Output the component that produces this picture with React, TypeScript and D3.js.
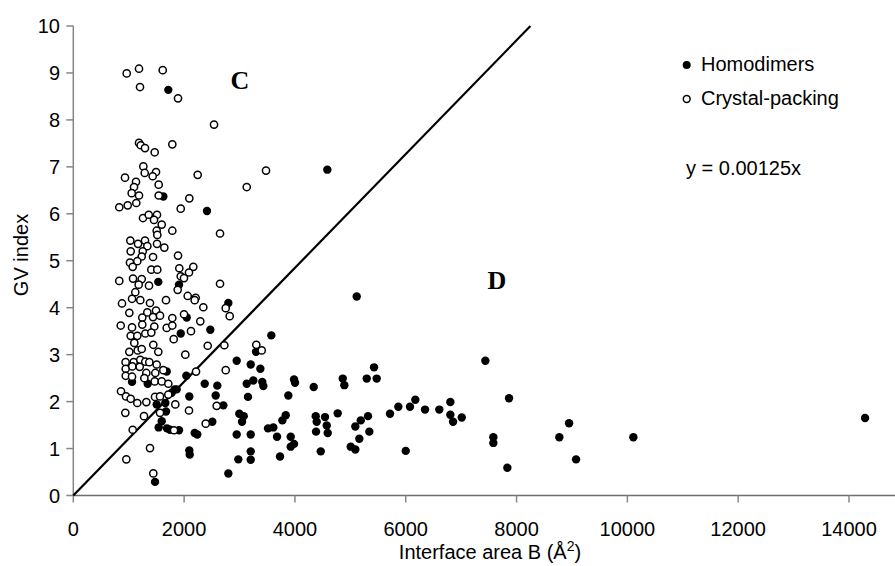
import React from "react";
import * as d3 from "d3";

const homodimers: [number, number][] = [
  [1715, 8.64], [1625, 6.37], [2413, 6.06], [1534, 4.55], [1908, 4.49], [2798, 4.1], [2047, 3.79], [2473, 3.53],
  [1939, 3.45], [3574, 3.41], [3298, 3.06], [2949, 2.87], [4585, 6.94], [5115, 4.24],
  [1475, 0.29], [2040, 2.55], [1060, 2.42], [1343, 2.38], [1686, 2.64], [1830, 2.26], [1866, 2.26], [1776, 2.19],
  [1661, 1.97], [1505, 1.94], [1673, 1.79], [1596, 1.58], [1541, 1.45], [1691, 1.43], [1745, 1.4], [1908, 1.39],
  [2094, 2.11], [2191, 1.33], [2238, 1.3], [2094, 0.96], [2101, 0.87],
  [2372, 2.38], [2599, 2.34], [2570, 2.13], [2708, 1.92], [2509, 1.57], [3130, 2.38], [3249, 2.45], [3411, 2.42],
  [3430, 2.33], [3984, 2.47], [4002, 2.4], [4339, 2.31], [3153, 2.1], [3881, 2.13], [2996, 1.74], [3076, 1.69],
  [3045, 1.57], [3514, 1.43], [3610, 1.45], [3773, 1.6], [3834, 1.71], [2949, 1.3], [3202, 1.3], [3677, 1.25],
  [3924, 1.25], [3984, 1.1], [3924, 1.04], [3202, 0.94], [3202, 0.76], [2978, 0.77], [3731, 0.83], [2798, 0.47],
  [4375, 1.69], [4393, 1.57], [4543, 1.67], [4574, 1.49], [4381, 1.36], [4592, 1.33], [4466, 0.94], [4772, 1.75],
  [3202, 2.79], [3376, 2.7],
  [4863, 2.49], [4892, 2.35], [5296, 2.49], [5428, 2.73], [5476, 2.49], [5090, 1.47], [5188, 1.6], [5319, 1.69],
  [5343, 1.36], [5162, 1.21], [5007, 1.04], [5090, 0.98], [5716, 1.74], [5866, 1.89], [6077, 1.89], [6173, 2.04],
  [6348, 1.83], [6000, 0.95], [6606, 1.83], [6805, 1.99], [6805, 1.72], [6854, 1.57], [7011, 1.66], [7437, 2.87],
  [7864, 2.07], [7581, 1.24], [7581, 1.12], [7834, 0.59], [8772, 1.24], [8948, 1.54], [9074, 0.77], [10108, 1.24],
  [14290, 1.65],
];

const crystalPacking: [number, number][] = [
  [964, 8.99], [1186, 9.09], [1614, 9.06], [1204, 8.7], [1890, 8.46], [2540, 7.9], [1186, 7.51], [1217, 7.46],
  [1294, 7.4], [1469, 7.31], [1787, 7.48], [1264, 7.01], [1289, 6.87], [1493, 6.89], [1433, 6.8], [933, 6.77],
  [1132, 6.68], [1096, 6.57], [1541, 6.62], [2245, 6.83], [3478, 6.92], [3130, 6.57],
  [1054, 6.44], [1186, 6.39], [1541, 6.39], [2094, 6.33], [1137, 6.23], [982, 6.18], [830, 6.14], [1939, 6.11],
  [1258, 5.91], [1361, 5.98], [1511, 5.98], [1457, 5.87], [1596, 5.77], [1505, 5.64], [1787, 5.64], [1516, 5.55],
  [2648, 5.58], [1029, 5.43], [1294, 5.43], [1168, 5.36], [1336, 5.31], [1511, 5.36], [1643, 5.28], [1036, 5.2],
  [1253, 5.2], [1235, 5.09], [1890, 5.11], [1439, 5.08], [1155, 4.99], [1023, 4.96], [1072, 4.87], [1913, 4.84],
  [2166, 4.87], [2088, 4.75], [1408, 4.81], [1516, 4.81], [1939, 4.67], [1998, 4.63], [1078, 4.62], [1235, 4.61],
  [830, 4.57], [1366, 4.47], [2648, 4.51], [1180, 4.49], [1884, 4.38], [1119, 4.33], [2065, 4.25], [2209, 4.21],
  [2191, 4.16], [1060, 4.19], [1209, 4.16], [1673, 4.16], [879, 4.09], [1384, 4.1], [2347, 4.01], [2751, 3.99],
  [1011, 3.89], [1493, 3.94], [1336, 3.9], [1245, 3.79], [1439, 3.8], [1565, 3.83], [1787, 3.78], [1998, 3.86],
  [2823, 3.82], [856, 3.62], [1060, 3.58], [1245, 3.64], [1462, 3.6], [1686, 3.57], [1787, 3.62], [2292, 3.71],
  [1036, 3.4], [1155, 3.4], [1300, 3.45], [1408, 3.47], [1812, 3.33], [2124, 3.5], [1101, 3.25], [1444, 3.21],
  [2426, 3.19], [2726, 3.2], [3303, 3.21], [3401, 3.09], [1011, 3.06], [1162, 3.09], [1235, 3.12], [1534, 3.06],
  [2022, 3.0],
  [944, 2.84], [1090, 2.84], [1209, 2.89], [1300, 2.85], [1372, 2.84], [1505, 2.79], [1625, 2.67], [946, 2.7],
  [1065, 2.75], [1199, 2.74], [1318, 2.61], [1480, 2.61], [946, 2.55], [1060, 2.53], [1282, 2.5], [1469, 2.43],
  [1596, 2.43], [1715, 2.38], [861, 2.22], [951, 2.11], [1036, 2.06], [1155, 1.97], [1318, 1.99], [1475, 2.1],
  [1565, 2.11], [1715, 2.15], [939, 1.76], [1072, 1.4], [1276, 1.69], [1565, 1.76], [1384, 1.01], [957, 0.77],
  [1444, 0.47], [1841, 1.94], [1818, 1.39], [2088, 1.81], [2215, 2.64], [2390, 1.53], [2588, 1.91], [2751, 2.67],
];

const xTicks = [0, 2000, 4000, 6000, 8000, 10000, 12000, 14000];
const yTicks = [0, 1, 2, 3, 4, 5, 6, 7, 8, 9, 10];
const lineX = [0, 8250];
const lineY = [0, 10];
const legendLabels = ["Homodimers", "Crystal-packing"];
const equationText = "y = 0.00125x";

const W = 895;
const H = 566;
const FONT = "'Liberation Sans', Arial, Helvetica, sans-serif";

export default function App() {
  const x = d3.scaleLinear().domain([0, 14000]).range([73.3, 849]);
  const y = d3.scaleLinear().domain([0, 10]).range([495.5, 26]);
  const x0 = x(0);
  const y0 = y(0);
  const axisColor = "#868686";
  const line = d3
    .line<number>()
    .x((d) => x(lineX[d]))
    .y((d) => y(lineY[d]));

  return (
    <svg
      width={W}
      height={H}
      style={{ position: "absolute", left: 0, top: 0, background: "#fff" }}
      fontFamily={FONT}
    >
      <rect x={0} y={0} width={W} height={H} fill="#fff" />
      {/* axes */}
      <line x1={x0} x2={x0} y1={y(10)} y2={y0} stroke={axisColor} strokeWidth={1.5} />
      <line x1={x0} x2={W} y1={y0} y2={y0} stroke="#6e6e6e" strokeWidth={1.5} />
      {yTicks.map((t) => (
        <g key={"yt" + t}>
          <line x1={x0 - 7} x2={x0} y1={y(t)} y2={y(t)} stroke={axisColor} strokeWidth={1.5} />
          <text x={60} y={y(t)} dy="0.36em" textAnchor="end" fontSize={20} fill="#000">
            {t}
          </text>
        </g>
      ))}
      {xTicks.map((t) => (
        <g key={"xt" + t}>
          <line x1={x(t)} x2={x(t)} y1={y0} y2={y0 + 7} stroke={axisColor} strokeWidth={1.5} />
          <text x={x(t)} y={536} textAnchor="middle" fontSize={20} fill="#000">
            {t}
          </text>
        </g>
      ))}
      {/* axis titles */}
      <text x={490} y={559} textAnchor="middle" fontSize={20} fill="#000">
        Interface area B (Å
        <tspan dy={-8} fontSize={14}>2</tspan>
        <tspan dy={8}>)</tspan>
      </text>
      <text
        transform={`translate(28,255) rotate(-90)`}
        textAnchor="middle"
        fontSize={20}
        fill="#000"
      >
        GV index
      </text>
      {/* threshold line */}
      <path d={line([0, 1]) || ""} stroke="#000" strokeWidth={2.2} fill="none" />
      {/* points */}
      {homodimers.map((d, i) => (
        <circle key={"h" + i} cx={x(d[0])} cy={y(d[1])} r={4.2} fill="#000" />
      ))}
      {crystalPacking.map((d, i) => (
        <circle
          key={"c" + i}
          cx={x(d[0])}
          cy={y(d[1])}
          r={3.6}
          fill="#fff"
          stroke="#000"
          strokeWidth={1.5}
        />
      ))}
      {/* region labels */}
      <text x={240} y={80} dy="0.35em" textAnchor="middle" fontSize={26} fontWeight="bold"
        fontFamily="'Liberation Serif', 'Times New Roman', serif">C</text>
      <text x={497} y={280} dy="0.35em" textAnchor="middle" fontSize={26} fontWeight="bold"
        fontFamily="'Liberation Serif', 'Times New Roman', serif">D</text>
      {/* legend */}
      <circle cx={686.7} cy={65} r={4} fill="#000" />
      <text x={701} y={64} dy="0.36em" fontSize={20} fill="#000">{legendLabels[0]}</text>
      <circle cx={686.7} cy={99} r={3.4} fill="#fff" stroke="#000" strokeWidth={1.5} />
      <text x={701} y={98} dy="0.36em" fontSize={20} fill="#000">{legendLabels[1]}</text>
      <text x={686} y={168} dy="0.36em" fontSize={20} fill="#000">{equationText}</text>
    </svg>
  );
}
